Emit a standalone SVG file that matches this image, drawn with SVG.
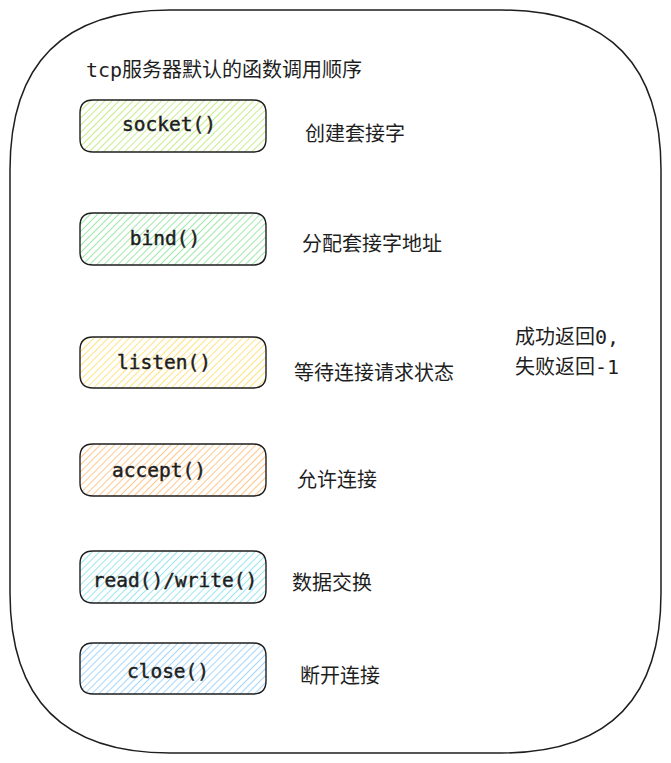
<svg xmlns="http://www.w3.org/2000/svg" width="671" height="763" viewBox="0 0 671 763">
<style>
.box{stroke:#1e1e1e;stroke-width:1.4}
.code{font-family:"DejaVu Sans Mono","Liberation Mono",monospace;font-size:19.5px;fill:#1e1e1e;stroke:#1e1e1e;stroke-width:0.45;text-anchor:middle}
.lbl{font-family:"DejaVu Sans Mono","Noto Sans CJK SC",monospace;font-size:20px;fill:#1e1e1e}
.hl{stroke-width:1.3}
</style>
<defs>
<pattern id="hGreenY" width="5" height="5" patternUnits="userSpaceOnUse" patternTransform="rotate(45)"><line class="hl" x1="0" y1="0" x2="0" y2="5" stroke="#a9e34b"/></pattern>
<pattern id="hGreen" width="5" height="5" patternUnits="userSpaceOnUse" patternTransform="rotate(45)"><line class="hl" x1="0" y1="0" x2="0" y2="5" stroke="#69db7c"/></pattern>
<pattern id="hYellow" width="5" height="5" patternUnits="userSpaceOnUse" patternTransform="rotate(45)"><line class="hl" x1="0" y1="0" x2="0" y2="5" stroke="#ffd43b"/></pattern>
<pattern id="hOrange" width="5" height="5" patternUnits="userSpaceOnUse" patternTransform="rotate(45)"><line class="hl" x1="0" y1="0" x2="0" y2="5" stroke="#ffa94d"/></pattern>
<pattern id="hCyan" width="5" height="5" patternUnits="userSpaceOnUse" patternTransform="rotate(45)"><line class="hl" x1="0" y1="0" x2="0" y2="5" stroke="#66d9e8"/></pattern>
<pattern id="hBlue" width="5" height="5" patternUnits="userSpaceOnUse" patternTransform="rotate(45)"><line class="hl" x1="0" y1="0" x2="0" y2="5" stroke="#74c0fc"/></pattern>
</defs>
<g id="container">
<path d="M170 10 L501 10 Q661 10 661 170 L661 593 Q661 753 501 753 L170 753 Q10 753 10 593 L10 170 Q10 10 170 10 Z" fill="#ffffff" stroke="#1e1e1e" stroke-width="1.5"/>
<text class="lbl" x="86" y="77">tcp服务器默认的函数调用顺序</text>
</g>
<g id="connectors"></g>
<g id="socket">
<path class="box" fill="url(#hGreenY)" d="M93 100 L253 100 Q266 100 266 113 L266 139 Q266 152 253 152 L93 152 Q80 152 80 139 L80 113 Q80 100 93 100 Z"/>
<text class="code" x="169" y="131">socket()</text>
</g>
<g id="bind">
<path class="box" fill="url(#hGreen)" d="M93 213 L253 213 Q266 213 266 226 L266 252 Q266 265 253 265 L93 265 Q80 265 80 252 L80 226 Q80 213 93 213 Z"/>
<text class="code" x="165" y="245">bind()</text>
</g>
<g id="listen">
<path class="box" fill="url(#hYellow)" d="M93 337 L253 337 Q266 337 266 350 L266 375 Q266 388 253 388 L93 388 Q80 388 80 375 L80 350 Q80 337 93 337 Z"/>
<text class="code" x="164" y="369">listen()</text>
</g>
<g id="accept">
<path class="box" fill="url(#hOrange)" d="M93 444 L253 444 Q266 444 266 457 L266 483 Q266 496 253 496 L93 496 Q80 496 80 483 L80 457 Q80 444 93 444 Z"/>
<text class="code" x="159" y="477">accept()</text>
</g>
<g id="readwrite">
<path class="box" fill="url(#hCyan)" d="M93 551 L253 551 Q266 551 266 564 L266 590 Q266 603 253 603 L93 603 Q80 603 80 590 L80 564 Q80 551 93 551 Z"/>
<text class="code" x="175" y="587">read()/write()</text>
</g>
<g id="close">
<path class="box" fill="url(#hBlue)" d="M93 643 L253 643 Q266 643 266 656 L266 681 Q266 694 253 694 L93 694 Q80 694 80 681 L80 656 Q80 643 93 643 Z"/>
<text class="code" x="168" y="678">close()</text>
</g>
<g id="labels">
<text class="lbl" x="305" y="141">创建套接字</text>
<text class="lbl" x="302" y="251">分配套接字地址</text>
<text class="lbl" x="294" y="380">等待连接请求状态</text>
<text class="lbl" x="297" y="487">允许连接</text>
<text class="lbl" x="292" y="590">数据交换</text>
<text class="lbl" x="300" y="683">断开连接</text>
<text class="lbl" x="515" y="344">成功返回0,</text>
<text class="lbl" x="515" y="374">失败返回-1</text>
</g>
</svg>
